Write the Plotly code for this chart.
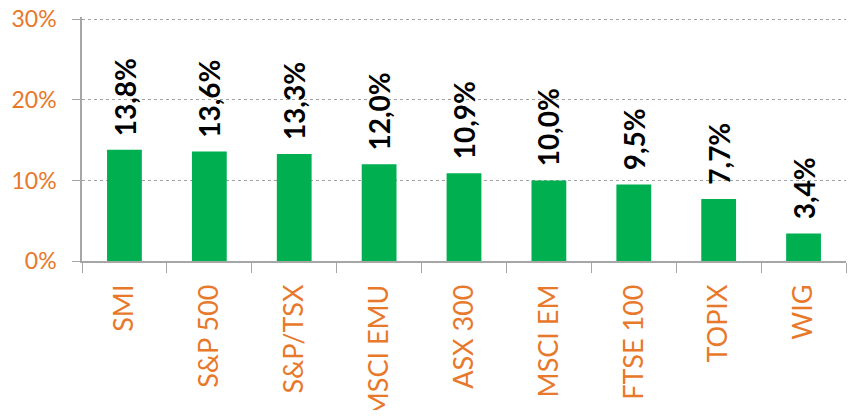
import plotly.graph_objects as go

categories = ["SMI", "S&P 500", "S&P/TSX", "MSCI EMU", "ASX 300", "MSCI EM", "FTSE 100", "TOPIX", "WIG"]
values = [13.8, 13.6, 13.3, 12.0, 10.9, 10.0, 9.5, 7.7, 3.4]
labels = ["13,8%", "13,6%", "13,3%", "12,0%", "10,9%", "10,0%", "9,5%", "7,7%", "3,4%"]
y_ticks = [0, 10, 20, 30]
y_ticktext = ["0%", "10%", "20%", "30%"]

orange = "#E8782A"
green = "#00B050"
font_family = "Lato, 'Open Sans', sans-serif"

fig = go.Figure()
fig.add_trace(go.Bar(
    x=categories, y=values,
    marker=dict(color=green, line=dict(width=0)),
    width=0.41,
    hoverinfo="skip",
))

for c, v, t in zip(categories, values, labels):
    fig.add_annotation(
        x=c, y=v, text="<b>" + t + "</b>", textangle=-90,
        showarrow=False, yanchor="bottom", xanchor="center",
        yshift=12, font=dict(family=font_family, size=28, color="black"),
    )

# page body has an 8px margin, so the figure is placed at (8, 8)
fig.update_layout(
    width=840, height=402,
    margin=dict(l=74, r=2, t=9, b=149, autoexpand=False),
    paper_bgcolor="white", plot_bgcolor="white",
    showlegend=False,
    font=dict(family=font_family),
    xaxis=dict(
        type="category",
        automargin=False,
        tickangle=-90,
        tickfont=dict(size=27, color=orange, family=font_family),
        showline=True, linecolor="#A6A6A6", linewidth=1.5,
        ticks="outside", ticklen=10, tickcolor="#A6A6A6", tickson="boundaries",
        ticklabelstandoff=11,
        ticklabeloverflow="allow",
        showgrid=False,
    ),
    yaxis=dict(
        automargin=False,
        range=[0, 30.3],
        tickvals=y_ticks, ticktext=y_ticktext,
        tickfont=dict(size=23, color=orange, family=font_family),
        showline=True, linecolor="#A6A6A6", linewidth=1.5,
        ticks="outside", ticklen=8, tickcolor="#A6A6A6",
        ticklabelstandoff=11,
        ticklabeloverflow="allow",
        showgrid=True, gridcolor="#A0A0A0", griddash="dot", gridwidth=1,
        zeroline=False,
    ),
)

fig.write_html("out.html")
